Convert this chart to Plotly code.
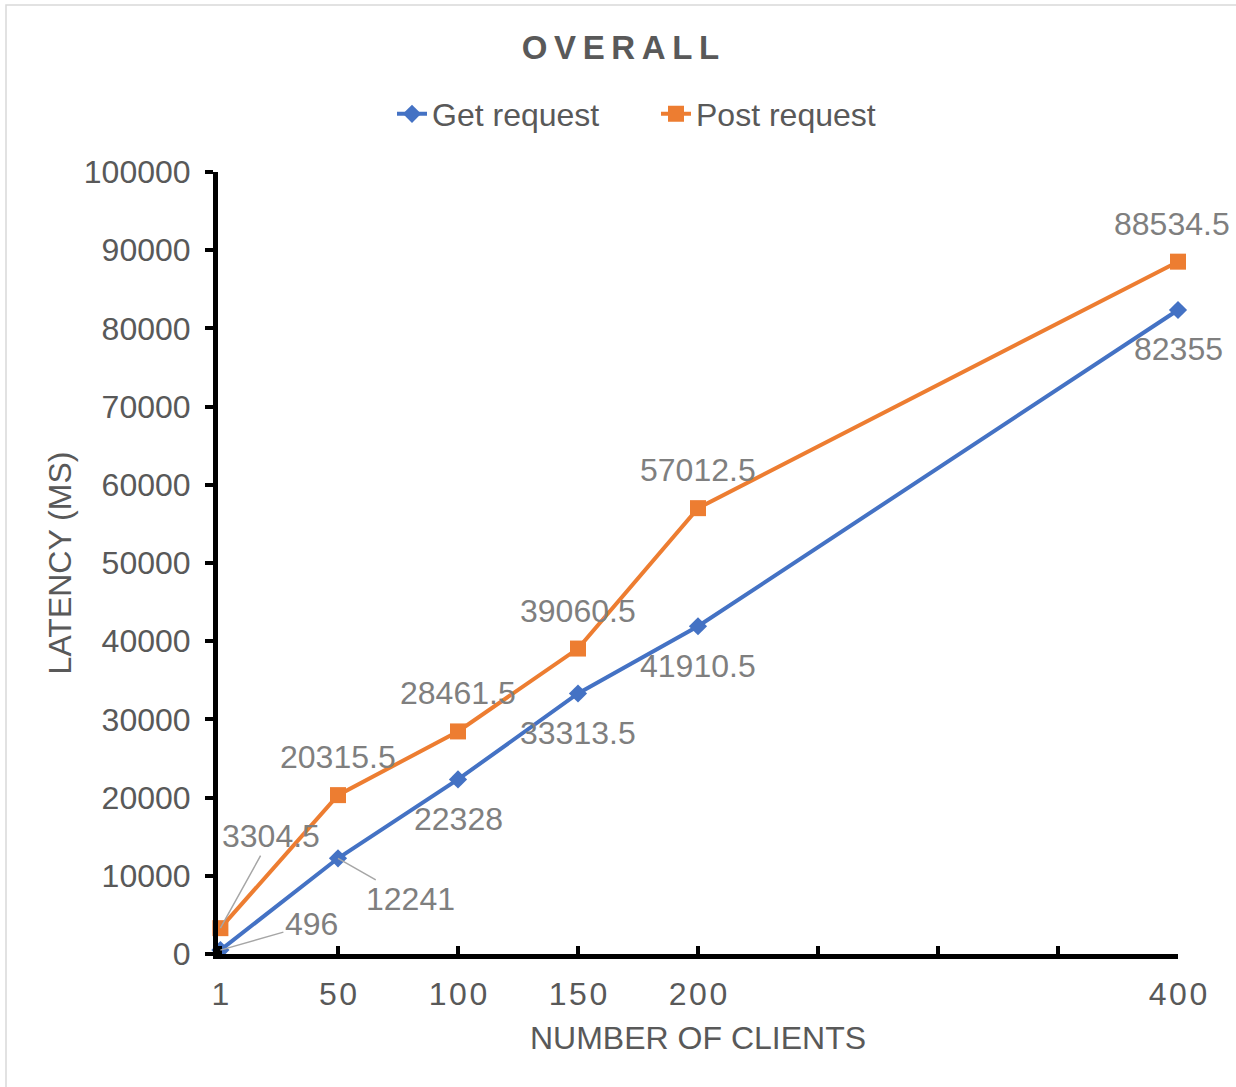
import plotly.graph_objects as go

# Number of concurrent clients and measured latencies (ms)
clients = [1, 50, 100, 150, 200, 400]
get_latency = [496, 12241, 22328, 33313.5, 41910.5, 82355]
post_latency = [3304.5, 20315.5, 28461.5, 39060.5, 57012.5, 88534.5]

x_tick_vals = [1, 50, 100, 150, 200, 250, 300, 350, 400]
x_tick_text = ["1", "50", "100", "150", "200", "", "", "", "400"]
y_tick_vals = [0, 10000, 20000, 30000, 40000, 50000, 60000, 70000, 80000, 90000, 100000]

BLUE = "#4472C4"
ORANGE = "#ED7D31"
TEXT = "#595959"
LABEL = "#7F7F7F"
FONT = "Liberation Sans, Arial, sans-serif"
HAIR = "\u200a"
FS = 32


def spaced(s, sep):
    return sep.join(list(s))


fig = go.Figure()
fig.add_trace(go.Scatter(
    x=clients, y=get_latency, name="Get request", mode="lines+markers",
    line=dict(color=BLUE, width=4), cliponaxis=False,
    marker=dict(symbol="diamond", size=14, color=BLUE),
))
fig.add_trace(go.Scatter(
    x=clients, y=post_latency, name="Post request", mode="lines+markers",
    line=dict(color=ORANGE, width=4), cliponaxis=False,
    marker=dict(symbol="square", size=16, color=ORANGE),
))

# Data label offsets in px: (dx, dy, leader line?)
get_offsets = [(91, -26, True), (72, 41, True), (0, 40, False), (0, 40, False), (0, 40, False), (0, 39, False)]
post_offsets = [(51, -92, True), (0, -38, False), (0, -38, False), (0, -38, False), (0, -38, False), (-6, -38, False)]


def fmt(v):
    return f"{v:g}" if v != int(v) else str(int(v))


for series, offsets in ((get_latency, get_offsets), (post_latency, post_offsets)):
    for xc, v, (dx, dy, leader) in zip(clients, series, offsets):
        if leader:
            fig.add_annotation(
                x=xc, y=v, text=fmt(v), showarrow=True, arrowhead=0,
                arrowwidth=1.5, arrowcolor="#A6A6A6", ax=dx, ay=dy,
                font=dict(family=FONT, size=FS, color=LABEL),
            )
        else:
            fig.add_annotation(
                x=xc, y=v, text=fmt(v), showarrow=False,
                xshift=dx, yshift=-dy,
                font=dict(family=FONT, size=FS, color=LABEL),
            )

L, R, T, B = 218, 58, 172, 133
W, H = 1236, 1087
pw, ph = W - L - R, H - T - B

fig.update_layout(
    width=W, height=H,
    margin=dict(l=L, r=R, t=T, b=B),
    paper_bgcolor="white", plot_bgcolor="white",
    font=dict(family=FONT, color=TEXT),
    title=dict(
        text="<b>" + spaced("OVERALL", "\u2009") + "</b>",
        x=0.502, xref="container", xanchor="center",
        y=1 - 47 / H, yref="container", yanchor="middle",
        font=dict(family=FONT, size=33, color=TEXT),
    ),
    showlegend=True,
    legend=dict(
        orientation="h", x=(392 - L) / pw, xanchor="left",
        y=(H - B - 114) / ph, yanchor="middle",
        entrywidth=219, entrywidthmode="pixels",
        font=dict(family=FONT, size=FS, color=TEXT),
        bgcolor="rgba(0,0,0,0)",
    ),
    xaxis=dict(
        range=[0, 400], tickmode="array", tickvals=x_tick_vals,
        ticktext=[spaced(t, HAIR) for t in x_tick_text],
        showgrid=False, zeroline=False,
        showline=True, linecolor="black", linewidth=5,
        ticks="inside", ticklen=8, tickwidth=4, tickcolor="black",
        tickfont=dict(family=FONT, size=FS, color=TEXT),
        ticklabelstandoff=8,
        title=dict(text="NUMBER OF CLIENTS", standoff=17,
                   font=dict(family=FONT, size=FS, color=TEXT)),
    ),
    yaxis=dict(
        range=[0, 100000], tickmode="array", tickvals=y_tick_vals,
        tickformat="d",
        showgrid=False, zeroline=False,
        showline=True, linecolor="black", linewidth=5,
        ticks="outside", ticklen=8, tickwidth=4, tickcolor="black",
        tickfont=dict(family=FONT, size=FS, color=TEXT),
        ticklabelstandoff=8,
        title=dict(text="LATENCY (MS)", standoff=4,
                   font=dict(family=FONT, size=FS, color=TEXT)),
    ),
    shapes=[dict(
        type="rect", xref="paper", yref="paper",
        x0=(6 - L) / pw, x1=(W + 4 - L) / pw,
        y0=(H - B - (H + 4)) / ph, y1=(H - B - 5) / ph,
        line=dict(color="#D9D9D9", width=1.5), fillcolor="rgba(0,0,0,0)",
        layer="below",
    )],
)

fig.write_html("out.html")
